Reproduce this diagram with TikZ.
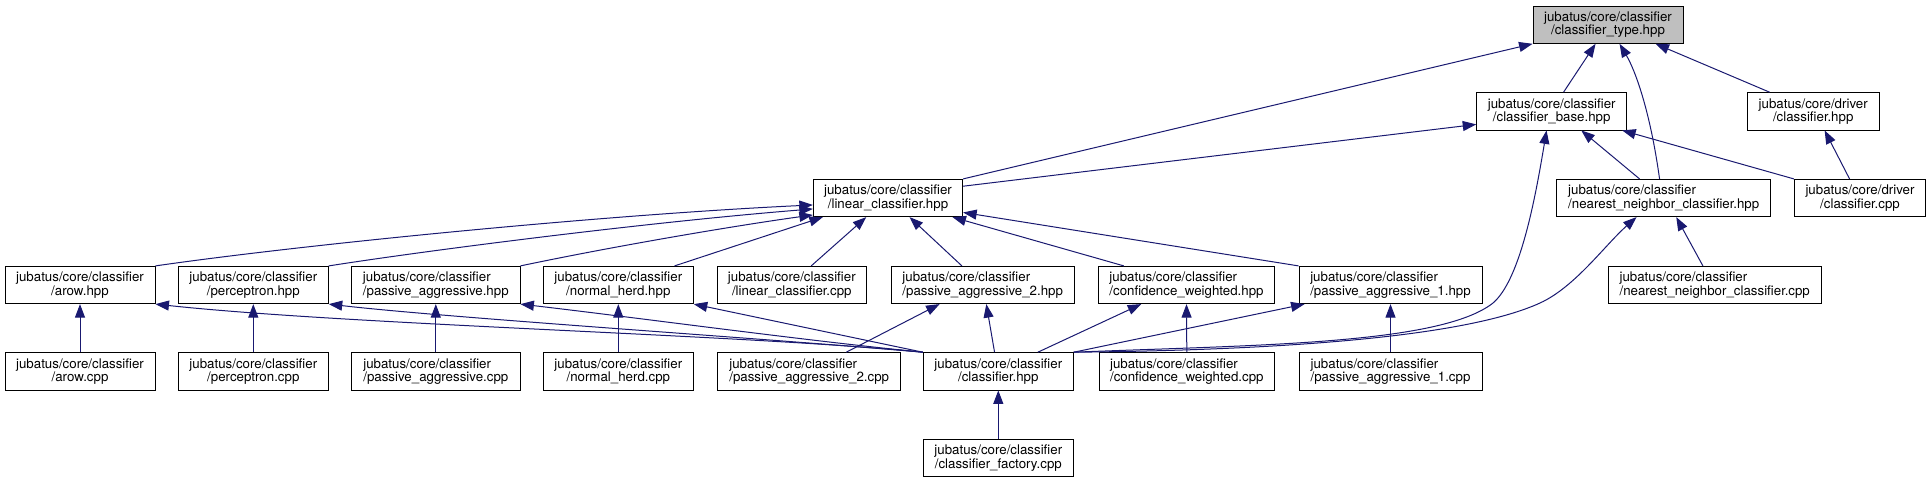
\documentclass[tikz,border=0pt]{standalone}
\usepackage{fontspec}
\setmainfont{TeX Gyre Heros}
\usetikzlibrary{arrows.meta,calc}
\definecolor{edgeblue}{HTML}{191970}
\definecolor{rootgray}{HTML}{BFBFBF}
\tikzset{
  file/.style={draw=black, line width=0.9pt, fill=white, minimum height=37.3pt,
    inner sep=0pt, font=\fontsize{13.3}{13.3}\selectfont, align=center},
  fileL/.style={file, align=left},
  dep/.style={draw=edgeblue, line width=1pt, -{Triangle[length=13.5pt,width=10pt]}},
}
\begin{document}
\begin{tikzpicture}[x=1pt,y=-1pt]
\path[use as bounding box] (0,0) rectangle (1931,483);
% row 0
\node[file, fill=rootgray, minimum width=150pt] (type) at (1608,24.7) {jubatus/core/classifier\\/classifier\_type.hpp};
% row 1
\node[file, minimum width=150pt] (base) at (1551.7,111.3) {jubatus/core/classifier\\/classifier\_base.hpp};
\node[file, minimum width=131.7pt] (drvhpp) at (1813.2,111.3) {jubatus/core/driver\\/classifier.hpp};
% row 2
\node[file, minimum width=149.4pt] (linhpp) at (888,198) {jubatus/core/classifier\\/linear\_classifier.hpp};
\node[fileL, minimum width=214pt] (nnhpp) at (1663.7,198) {jubatus/core/classifier\\/nearest\_neighbor\_classifier.hpp};
\node[file, minimum width=131.4pt] (drvcpp) at (1860,198) {jubatus/core/driver\\/classifier.cpp};
% row 3
\node[file, minimum width=150pt] (arowhpp) at (80,285) {jubatus/core/classifier\\/arow.hpp};
\node[file, minimum width=150pt] (perchpp) at (253.3,285) {jubatus/core/classifier\\/perceptron.hpp};
\node[fileL, minimum width=168.3pt] (pahpp) at (435.8,285) {jubatus/core/classifier\\/passive\_aggressive.hpp};
\node[file, minimum width=150pt] (nhhpp) at (618.3,285) {jubatus/core/classifier\\/normal\_herd.hpp};
\node[file, minimum width=149.7pt] (lincpp) at (791.8,285) {jubatus/core/classifier\\/linear\_classifier.cpp};
\node[fileL, minimum width=183.3pt] (pa2hpp) at (982.7,285) {jubatus/core/classifier\\/passive\_aggressive\_2.hpp};
\node[fileL, minimum width=176.4pt] (cwhpp) at (1186.5,285) {jubatus/core/classifier\\/confidence\_weighted.hpp};
\node[fileL, minimum width=183pt] (pa1hpp) at (1390.5,285) {jubatus/core/classifier\\/passive\_aggressive\_1.hpp};
\node[fileL, minimum width=212.7pt] (nncpp) at (1714.7,285) {jubatus/core/classifier\\/nearest\_neighbor\_classifier.cpp};
% row 4
\node[file, minimum width=150pt] (arowcpp) at (80,371.3) {jubatus/core/classifier\\/arow.cpp};
\node[file, minimum width=150pt] (perccpp) at (253.3,371.3) {jubatus/core/classifier\\/perceptron.cpp};
\node[fileL, minimum width=168.3pt] (pacpp) at (435.8,371.3) {jubatus/core/classifier\\/passive\_aggressive.cpp};
\node[file, minimum width=150pt] (nhcpp) at (618.3,371.3) {jubatus/core/classifier\\/normal\_herd.cpp};
\node[fileL, minimum width=183pt] (pa2cpp) at (809.2,371.3) {jubatus/core/classifier\\/passive\_aggressive\_2.cpp};
\node[file, minimum width=150pt] (clshpp) at (998.3,371.3) {jubatus/core/classifier\\/classifier.hpp};
\node[fileL, minimum width=175.7pt] (cwcpp) at (1186.8,371.3) {jubatus/core/classifier\\/confidence\_weighted.cpp};
\node[fileL, minimum width=183pt] (pa1cpp) at (1390.5,371.3) {jubatus/core/classifier\\/passive\_aggressive\_1.cpp};
% row 5
\node[file, minimum width=150pt] (factory) at (998.3,458) {jubatus/core/classifier\\/classifier\_factory.cpp};

% edges to classifier_type
\draw[dep] ($(base.north west)+(87.3,0)$) -- ($(type.south west)+(63,0)$);
\draw[dep] ($(nnhpp.north west)+(103.3,0)$) .. controls (1650,110) and (1635,70) .. ($(type.south west)+(87,0)$);
\draw[dep] ($(drvhpp.north west)+(22.7,0)$) -- ($(type.south west)+(123,0)$);
\draw[dep] (linhpp.north east) -- (type.south west);
% edges to classifier_base
\draw[dep] ($(linhpp.north east)+(0,7.3)$) -- ($(base.south west)+(0,-6)$);
\draw[dep] (clshpp.north east) .. controls (1250,345) and (1440,345) .. (1493,303)
  .. controls (1520,280) and (1535,200) .. ($(base.south west)+(70.3,0)$);
\draw[dep] ($(nnhpp.north west)+(83.3,0)$) -- ($(base.south west)+(105,0)$);
\draw[dep] (drvcpp.north west) -- ($(base.south east)+(-5,0)$);
% driver
\draw[dep] ($(drvcpp.north west)+(55.7,0)$) -- ($(drvhpp.south west)+(77.7,0)$);
% nearest neighbor
\draw[dep] (clshpp.north east) .. controls (1300,350) and (1470,335) .. (1540,303)
  .. controls (1575,287) and (1605,245) .. ($(nnhpp.south west)+(80.3,0)$);
\draw[dep] ($(nncpp.north west)+(95,0)$) -- ($(nnhpp.south west)+(120,0)$);
% edges to linear_classifier.hpp
\draw[dep] (arowhpp.north east) .. controls (300,245) and (600,215) .. ($(linhpp.south west)+(0,-12.15)$);
\draw[dep] (perchpp.north east) .. controls (430,250) and (650,222) .. ($(linhpp.south west)+(0,-8.15)$);
\draw[dep] (pahpp.north east) .. controls (620,245) and (740,225) .. ($(linhpp.south west)+(0,-2.15)$);
\draw[dep] ($(nhhpp.north west)+(131.7,0)$) -- ($(linhpp.south west)+(10,0)$);
\draw[dep] ($(lincpp.north west)+(94.7,0)$) -- ($(linhpp.south west)+(53.4,0)$);
\draw[dep] ($(pa2hpp.north west)+(71.3,0)$) -- ($(linhpp.south west)+(96.7,0)$);
\draw[dep] ($(cwhpp.north west)+(26,0)$) -- ($(linhpp.south east)+(-10.7,0)$);
\draw[dep] (pa1hpp.north west) -- ($(linhpp.south east)+(0,-4.65)$);
% edges from classifier.hpp
\draw[dep] (clshpp.north west) .. controls (750,335) and (350,325) .. (arowhpp.south east);
\draw[dep] (clshpp.north west) .. controls (760,338) and (450,318) .. (perchpp.south east);
\draw[dep] (clshpp.north west) .. controls (800,340) and (640,318) .. (pahpp.south east);
\draw[dep] (clshpp.north west) -- (nhhpp.south east);
\draw[dep] ($(clshpp.north west)+(71.7,0)$) -- ($(pa2hpp.south west)+(95.7,0)$);
\draw[dep] ($(clshpp.north west)+(115,0)$) -- ($(cwhpp.south west)+(43.4,0)$);
\draw[dep] (clshpp.north east) -- ($(pa1hpp.south west)+(6,0)$);
\draw[dep] (factory.north) -- (clshpp.south);
% cpp to hpp
\draw[dep] (arowcpp.north) -- (arowhpp.south);
\draw[dep] (perccpp.north) -- (perchpp.south);
\draw[dep] (pacpp.north) -- (pahpp.south);
\draw[dep] (nhcpp.north) -- (nhhpp.south);
\draw[dep] ($(pa2cpp.north west)+(129,0)$) -- ($(pa2hpp.south west)+(49,0)$);
\draw[dep] (cwcpp.north) -- (cwhpp.south);
\draw[dep] (pa1cpp.north) -- (pa1hpp.south);
\end{tikzpicture}
\end{document}
